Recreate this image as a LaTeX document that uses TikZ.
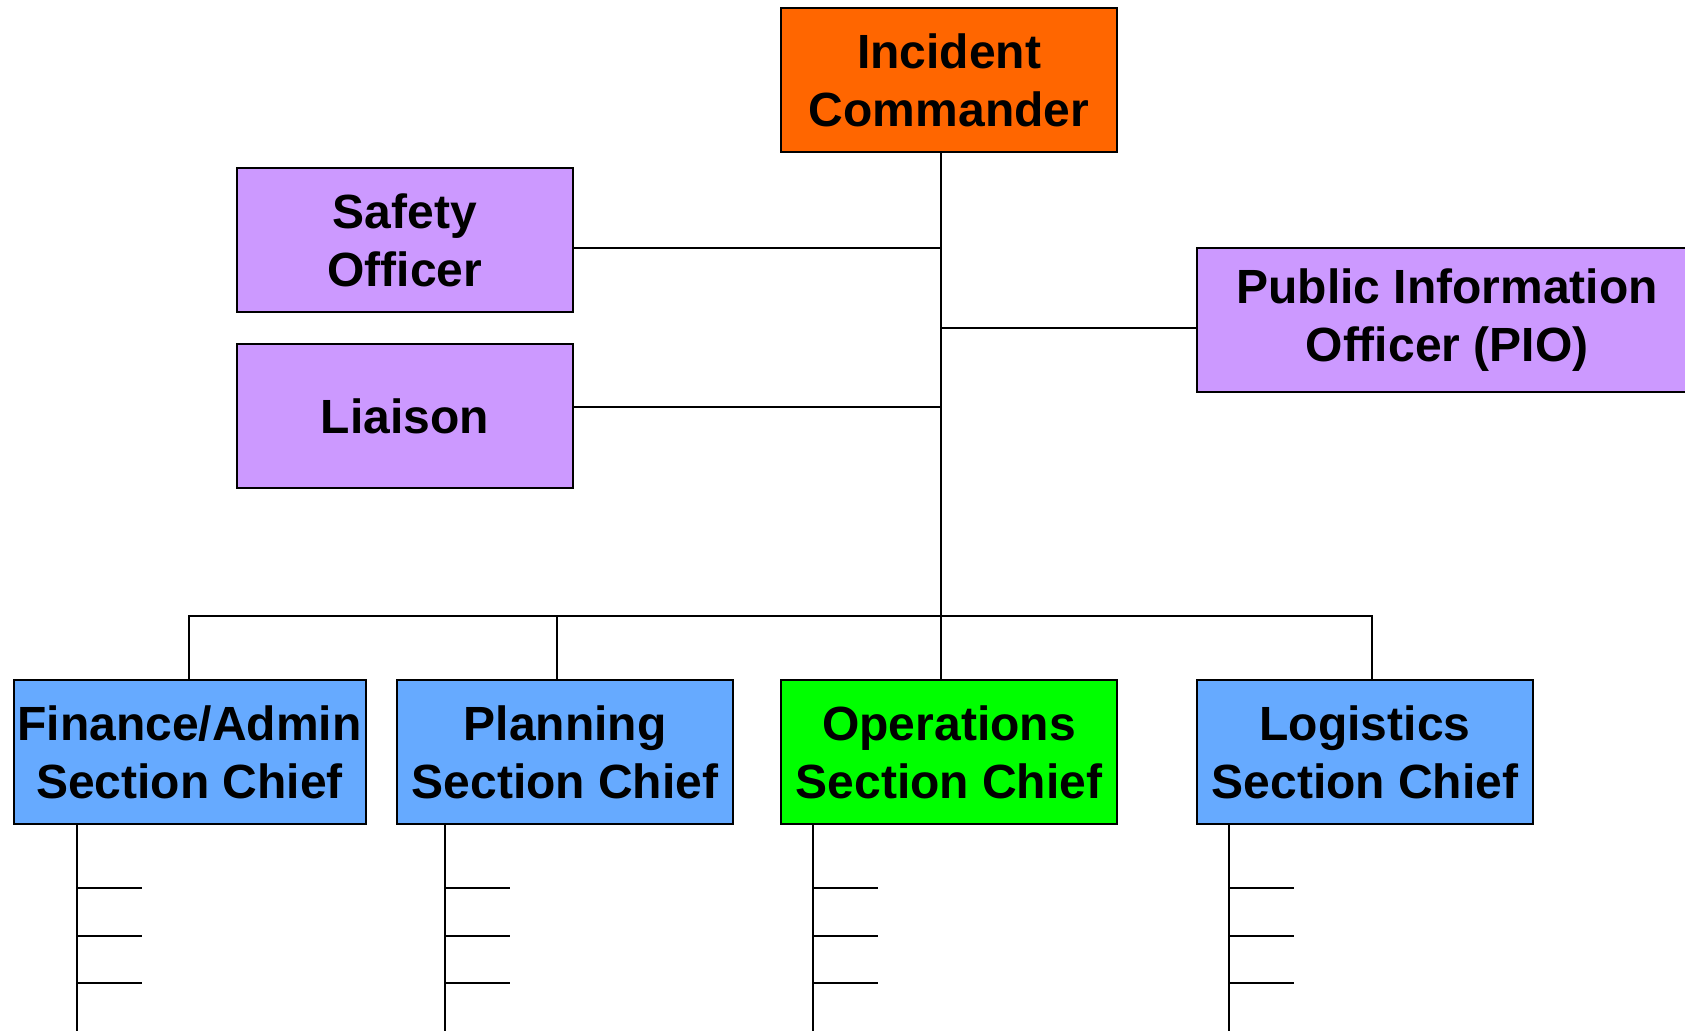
\documentclass[tikz,border=0pt]{standalone}
\usepackage{fontspec}
\setmainfont{Liberation Sans}
\definecolor{orangeic}{HTML}{FF6600}
\definecolor{lilas}{HTML}{CC99FF}
\definecolor{bleu}{HTML}{66AAFF}
\definecolor{vert}{HTML}{00FF00}
\begin{document}
\begin{tikzpicture}[x=0.5pt, y=-0.5pt]
\tikzstyle{boite} = [draw, line width=1pt, inner sep=0pt, minimum width=168pt, minimum height=72pt, align=center, font=\fontsize{24}{29}\selectfont\bfseries];
\tikzstyle{trait} = [line width=1pt];
\useasboundingbox (0,0) rectangle (1685,1031);

\node[boite, fill=orangeic] (ic) at (949,80) {Incident\\Commander};
\node[boite, fill=lilas] (so) at (405,240) {Safety\\Officer};
\node[boite, fill=lilas] (li) at (405,416) {Liaison};
\node[boite, fill=lilas, minimum width=250pt] (pio) at (1447,320) {Public Information\\Officer (PIO)};
\node[boite, fill=bleu, minimum width=176pt] (fin) at (189.5,752) {Finance/Admin\\Section Chief};
\node[boite, fill=bleu] (plan) at (565,752) {Planning\\Section Chief};
\node[boite, fill=vert] (ops) at (949,752) {Operations\\Section Chief};
\node[boite, fill=bleu] (log) at (1365,752) {Logistics\\Section Chief};

\coordinate (jso) at (941,248);
\coordinate (jpio) at (941,328);
\coordinate (jli) at (941,407);
\coordinate (bfin) at (189,616);
\coordinate (bplan) at (557,616);
\coordinate (blog) at (1372,616);

\draw[trait] (ic.south -| jso) -- (ops.north -| jso);
\draw[trait] (so.east |- jso) -- (jso);
\draw[trait] (li.east |- jli) -- (jli);
\draw[trait] (jpio) -- (pio.west |- jpio);
\draw[trait] (fin.north -| bfin) -- (bfin) -- (blog) -- (log.north -| blog);
\draw[trait] (bplan) -- (plan.north -| bplan);

\foreach \n/\x in {fin/77, plan/445, ops/813, log/1229} {
  \coordinate (pied) at (\x,1031);
  \draw[trait] (\n.south -| pied) -- (pied);
  \foreach \y in {888,936,983} {
    \coordinate (t) at (\x,\y);
    \draw[trait] (t) -- ++(65,0);
  }
}
\end{tikzpicture}
\end{document}
